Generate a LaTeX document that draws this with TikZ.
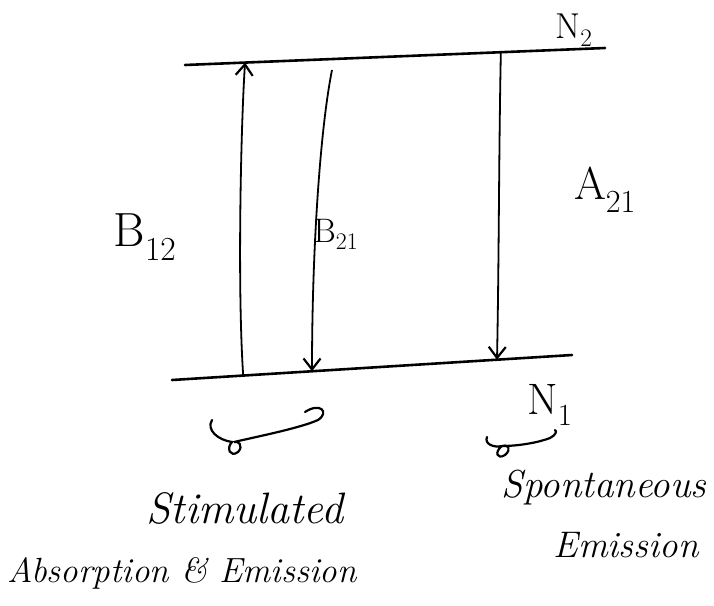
\documentclass[tikz,border=0pt]{standalone}
\usepackage{fontspec}
\usetikzlibrary{calc,arrows.meta}
\begin{document}
\begin{tikzpicture}[x=1pt,y=-1pt,
  level/.style={line width=2.6pt, line cap=round},
  trans/.style={line width=1.8pt, -{Straight Barb[length=11pt,width=17pt,line width=2.2pt]}},
  lbl/.style={inner sep=0pt},
  hand/.style={font=\fontsize{35}{40}\selectfont\itshape, inner sep=0pt},
  brace/.style={line width=2.2pt, line cap=round}]
\useasboundingbox (0,0) rectangle (714,605);
% energy levels
\coordinate (t1) at (185,65);
\coordinate (t2) at (605,48);
\coordinate (b1) at (172,380);
\coordinate (b2) at (572,355);
\draw[level] (t1) -- (t2);
\draw[level] (b1) -- (b2);
% transition end points
\coordinate (upS) at ($(b1)!0.178!(b2)$);
\coordinate (upE) at ($(t1)!0.143!(t2)$);
\coordinate (stS) at (332,70);
\coordinate (stE) at ($(b1)!0.35!(b2)$);
\coordinate (spS) at ($(t1)!0.752!(t2)$);
\coordinate (spE) at ($(b1)!0.8125!(b2)$);
\draw[trans] (upS) .. controls ($(upS)+(-6,-90)$) and ($(upE)+(-4,60)$) .. (upE);
\draw[trans] (stS) .. controls ($(stS)+(-12,60)$) and ($(stE)+(0,-120)$) .. (stE);
\draw[trans] (spS) .. controls ($(spS)+(-2,100)$) and ($(spE)+(2,-100)$) .. (spE);
% labels
\node[lbl, font=\fontsize{36}{40}\selectfont] (n2) at (574,30) {N\textsubscript{2}};
\node[lbl, font=\fontsize{46}{50}\selectfont] (a21) at (605,190) {A\textsubscript{21}};
\node[lbl, font=\fontsize{48}{52}\selectfont] (b12) at (145,237) {B\textsubscript{12}};
\node[lbl, font=\fontsize{34}{38}\selectfont] (b21) at (336,234) {B\textsubscript{21}};
\node[lbl, font=\fontsize{44}{48}\selectfont] (n1) at (550,405) {N\textsubscript{1}};
% braces
\coordinate (lb1) at (212,420);
\coordinate (lb2) at (322,412);
\draw[brace] (lb1) .. controls (206,430) and (218,440) .. (232,442)
  .. controls (226,448) and (230,458) .. (238,452)
  .. controls (244,446) and (238,440) .. (234,442)
  .. controls (260,436) and (300,428) .. (318,420)
  .. controls (330,412) and (320,402) .. (305,412);
\coordinate (rb1) at (487,437);
\coordinate (rb2) at (555,430);
\draw[brace] (rb1) .. controls (484,444) and (494,448) .. (502,446)
  .. controls (494,452) and (497,460) .. (505,455)
  .. controls (512,449) and (508,444) .. (502,446)
  .. controls (520,446) and (540,442) .. (550,438)
  .. controls (556,435) and (557,431) .. (rb2);
% captions
\node[hand, font=\fontsize{44}{48}\selectfont\itshape] (stim) at (245,508) {Stimulated};
\node[hand] (absem) at (182,573) {Absorption \& Emission};
\node[hand, font=\fontsize{39}{44}\selectfont\itshape] (spon) at (604,488) {Spontaneous};
\node[hand, font=\fontsize{37}{42}\selectfont\itshape] (emis) at (626,545) {Emission};
\end{tikzpicture}
\end{document}
